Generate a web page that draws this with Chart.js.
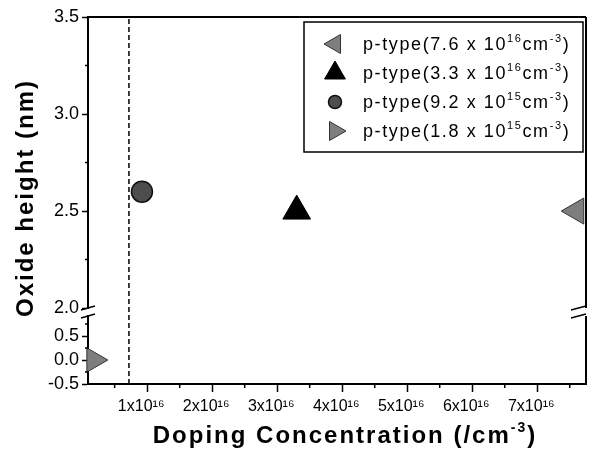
<!DOCTYPE html>
<html>
<head>
<meta charset="utf-8">
<script src="https://cdn.jsdelivr.net/npm/chart.js@4.4.1/dist/chart.umd.min.js"></script>
<style>
  html, body { margin: 0; padding: 0; background: #fff; overflow: hidden; }
  canvas { display: block; }
</style>
</head>
<body>
<canvas id="chart" width="589" height="454"></canvas>
<script>
// Doping concentration of each p-type sample (cm^-3), legend order
const concentrations = [7.6e16, 3.3e16, 9.2e15, 1.8e15];
// Oxide height measured for each sample (nm)
const oxideHeights = [2.5, 2.5, 2.6, 0.0];
// Dashed reference line position (cm^-3)
const dashedLineX = 7.2e15;

// Tick values
const xTicks = [1e16, 2e16, 3e16, 4e16, 5e16, 6e16, 7e16];
const xMinorTicks = [0.5e16, 1.5e16, 2.5e16, 3.5e16, 4.5e16, 5.5e16, 6.5e16, 7.5e16];
const upperYTicks = [2.0, 2.5, 3.0, 3.5];
const upperYMinorTicks = [2.25, 2.75, 3.25];
const lowerYTicks = [-0.5, 0.0, 0.5];
const lowerYMinorTicks = [-0.25, 0.25, 0.75];

// Axis ranges (broken y axis: upper and lower parts)
const xRange = [0.9e15, 7.75e16];
const upperYRange = [1.98, 3.5];
const lowerYRange = [-0.5, 1.0];

const FONT = '"Liberation Sans", Arial, sans-serif';

// Marker look of each series
const pointLooks = [
  { style: 'triangle', rotation: -90, radius: 15, legendRadius: 11, color: '#7e7e7e', border: '#333', borderWidth: 1 },
  { style: 'triangle', rotation: 0, radius: 16, legendRadius: 12, color: '#000', border: '#000', borderWidth: 1 },
  { style: 'circle', rotation: 0, radius: 10.5, legendRadius: 6.5, color: '#4d4d4d', border: '#111', borderWidth: 1.5 },
  { style: 'triangle', rotation: 90, radius: 14, legendRadius: 11, color: '#7e7e7e', border: '#333', borderWidth: 1 }
];

function sup(str) {
  const map = { '0': '⁰', '1': '¹', '2': '²', '3': '³', '4': '⁴', '5': '⁵', '6': '⁶', '7': '⁷', '8': '⁸', '9': '⁹', '-': '⁻' };
  return str.split('').map(c => map[c] || c).join('');
}

function splitExp(c) {
  const [m, e] = c.toExponential(1).split('e');
  return [m, String(parseInt(e, 10))];
}

// Draw text with raised small parts, parts = [[text, isSup], ...]
function drawRich(ctx, parts, x, y, align, size, weight, spacing) {
  const supSize = Math.round(size * 0.6);
  const fontOf = s => `${weight} ${s ? supSize : size}px ${FONT}`;
  ctx.letterSpacing = spacing + 'px';
  let total = 0;
  parts.forEach(([t, s]) => { ctx.font = fontOf(s); total += ctx.measureText(t).width; });
  let cx = align === 'center' ? x - total / 2 : x;
  ctx.textAlign = 'left';
  ctx.textBaseline = 'alphabetic';
  ctx.fillStyle = '#000';
  parts.forEach(([t, s]) => {
    ctx.font = fontOf(s);
    ctx.fillText(t, cx, s ? y - size * 0.45 : y);
    cx += ctx.measureText(t).width;
  });
  ctx.letterSpacing = '0px';
}

const datasets = concentrations.map((c, i) => {
  const look = pointLooks[i];
  const [m, e] = splitExp(c);
  return {
    label: `p-type(${m} x 10${sup(e)}cm${sup('-3')})`,
    data: [{ x: c, y: oxideHeights[i] }],
    yAxisID: oxideHeights[i] > lowerYRange[1] ? 'yHigh' : 'yLow',
    pointStyle: look.style,
    rotation: look.rotation,
    pointRadius: look.radius,
    backgroundColor: look.color,
    borderColor: look.border,
    borderWidth: look.borderWidth,
    clip: false
  };
});

// Dashed vertical line, one piece per axis part
datasets.push({
  label: '', data: [{ x: dashedLineX, y: upperYRange[0] }, { x: dashedLineX, y: upperYRange[1] }],
  yAxisID: 'yHigh', showLine: true, borderColor: '#000', borderWidth: 1.5, borderDash: [5, 3], pointRadius: 0
});
datasets.push({
  label: '', data: [{ x: dashedLineX, y: lowerYRange[0] }, { x: dashedLineX, y: lowerYRange[1] }],
  yAxisID: 'yLow', showLine: true, borderColor: '#000', borderWidth: 1.5, borderDash: [5, 3], pointRadius: 0
});

function yScale(range, ticks, weight) {
  return {
    type: 'linear',
    position: 'left',
    stack: 'y',
    stackWeight: weight,
    min: range[0],
    max: range[1],
    afterBuildTicks: s => { s.ticks = ticks.map(v => ({ value: v })); },
    afterFit: s => { s.width = 88; },
    ticks: { callback: v => v.toFixed(1), color: '#000', font: { family: FONT, size: 18 }, padding: 3, autoSkip: false },
    grid: { drawOnChartArea: false, tickLength: 6, tickWidth: 1.5, tickColor: '#000' },
    border: { color: '#000', width: 2 }
  };
}

// Frame, axis break marks, minor ticks and axis titles
const decorations = {
  id: 'decorations',
  afterDraw(chart) {
    const ctx = chart.ctx;
    const a = chart.chartArea;
    const sx = chart.scales.x, sHigh = chart.scales.yHigh, sLow = chart.scales.yLow;
    const by = sHigh.bottom;
    ctx.save();
    ctx.strokeStyle = '#000';

    // top and right frame
    ctx.lineWidth = 2;
    ctx.beginPath();
    ctx.moveTo(a.left, a.top); ctx.lineTo(a.right, a.top);
    ctx.moveTo(a.right, a.top); ctx.lineTo(a.right, by - 4);
    ctx.moveTo(a.right, by + 4); ctx.lineTo(a.right, a.bottom);
    ctx.stroke();

    // gap in the left axis
    ctx.fillStyle = '#fff';
    ctx.fillRect(a.left - 2, by - 3, 4, 6);
    // break marks
    ctx.lineWidth = 1.5;
    ctx.beginPath();
    [-4, 4].forEach(d => {
      ctx.moveTo(a.left - 7, by + d + 2); ctx.lineTo(a.left + 7, by + d - 2);
      ctx.moveTo(a.right - 15, by + d + 2); ctx.lineTo(a.right, by + d - 2);
    });
    ctx.stroke();

    // minor ticks
    ctx.lineWidth = 1.5;
    ctx.beginPath();
    xMinorTicks.forEach(v => {
      const px = sx.getPixelForValue(v);
      ctx.moveTo(px, a.bottom); ctx.lineTo(px, a.bottom + 4);
    });
    upperYMinorTicks.forEach(v => {
      const py = sHigh.getPixelForValue(v);
      ctx.moveTo(a.left - 3, py); ctx.lineTo(a.left, py);
    });
    lowerYMinorTicks.forEach(v => {
      const py = sLow.getPixelForValue(v);
      ctx.moveTo(a.left - 3, py); ctx.lineTo(a.left, py);
    });
    ctx.stroke();

    // axis titles
    drawRich(ctx, [['Doping Concentration (/cm', false], ['-3', true], [')', false]], 345, 443, 'center', 24, 'bold', 2);
    ctx.translate(25, 198);
    ctx.rotate(-Math.PI / 2);
    drawRich(ctx, [['Oxide height (nm)', false]], 0, 8, 'center', 24, 'bold', 2);
    ctx.restore();
  }
};

// Boxed legend in the upper right of the plot
const legendBox = {
  id: 'legendBox',
  afterDraw(chart) {
    const ctx = chart.ctx;
    const a = chart.chartArea;
    const right = a.right - 3, left = right - 279, top = a.top + 5;
    const rowH = 29;
    const h = rowH * concentrations.length + 14;
    ctx.save();
    ctx.lineWidth = 1.5;
    ctx.strokeStyle = '#000';
    ctx.strokeRect(left, top, right - left, h);
    concentrations.forEach((c, i) => {
      const look = pointLooks[i];
      const y = top + 22 + i * rowH;
      ctx.fillStyle = look.color;
      ctx.strokeStyle = look.border;
      ctx.lineWidth = look.borderWidth;
      Chart.helpers.drawPoint(ctx, { pointStyle: look.style, rotation: look.rotation, radius: look.legendRadius, borderWidth: look.borderWidth }, left + 31, y);
      const [m, e] = splitExp(c);
      drawRich(ctx, [[`p-type(${m} x 10`, false], [e, true], ['cm', false], ['-3', true], [')', false]], left + 59, y + 6, 'left', 18, 'normal', 1.6);
    });
    ctx.restore();
  }
};

new Chart(document.getElementById('chart'), {
  type: 'scatter',
  data: { datasets },
  options: {
    responsive: false,
    animation: false,
    layout: { autoPadding: false, padding: { top: 17, right: 3, left: 0, bottom: 0 } },
    plugins: { legend: { display: false }, tooltip: { enabled: false } },
    scales: {
      x: {
        type: 'linear',
        position: 'bottom',
        min: xRange[0],
        max: xRange[1],
        afterBuildTicks: s => { s.ticks = xTicks.map(v => ({ value: v })); },
        afterFit: s => { s.height = 70; s.paddingLeft = 0; s.paddingRight = 0; },
        ticks: {
          callback: v => (v / 1e16) + 'x10' + sup('16'),
          color: '#000', font: { family: FONT, size: 16 }, padding: 5, labelOffset: -6,
          maxRotation: 0, autoSkip: false
        },
        grid: { drawOnChartArea: false, tickLength: 8, tickWidth: 1.5, tickColor: '#000' },
        border: { color: '#000', width: 2 }
      },
      yLow: yScale(lowerYRange, lowerYTicks, 72),
      yHigh: yScale(upperYRange, upperYTicks, 295)
    }
  },
  plugins: [decorations, legendBox]
});
</script>
</body>
</html>
